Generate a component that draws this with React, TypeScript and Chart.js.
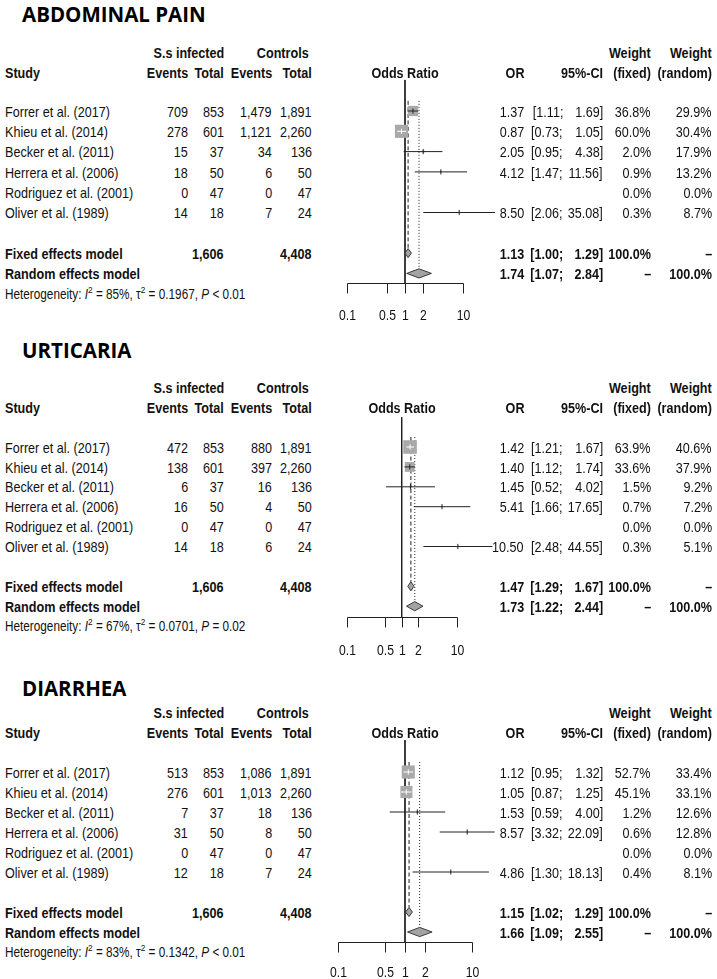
import React, { useEffect, useRef } from "react";
import { Chart, registerables } from "chart.js";

Chart.register(...registerables);

// ---------------- DATA ----------------
const studies = [
  "Forrer et al. (2017)",
  "Khieu et al. (2014)",
  "Becker et al. (2011)",
  "Herrera et al. (2006)",
  "Rodriguez et al. (2001)",
  "Oliver et al. (1989)",
];
const totalInfected = [853, 601, 37, 50, 47, 18];
const totalControls = [1891, 2260, 136, 50, 47, 24];

// Abdominal pain
const abdEventsInfected = [709, 278, 15, 18, 0, 14];
const abdEventsControls = [1479, 1121, 34, 6, 0, 7];
const abdOR = [1.37, 0.87, 2.05, 4.12, null, 8.5];
const abdLower = [1.11, 0.73, 0.95, 1.47, null, 2.06];
const abdUpper = [1.69, 1.05, 4.38, 11.56, null, 35.08];
const abdWeightFixed = [36.8, 60.0, 2.0, 0.9, 0.0, 0.3];
const abdWeightRandom = [29.9, 30.4, 17.9, 13.2, 0.0, 8.7];
const abdFixed = [1.13, 1.0, 1.29];
const abdRandom = [1.74, 1.07, 2.84];
const abdHeterogeneity = ["85%", "0.1967", "<", "0.01"];

// Urticaria
const urtEventsInfected = [472, 138, 6, 16, 0, 14];
const urtEventsControls = [880, 397, 16, 4, 0, 6];
const urtOR = [1.42, 1.4, 1.45, 5.41, null, 10.5];
const urtLower = [1.21, 1.12, 0.52, 1.66, null, 2.48];
const urtUpper = [1.67, 1.74, 4.02, 17.65, null, 44.55];
const urtWeightFixed = [63.9, 33.6, 1.5, 0.7, 0.0, 0.3];
const urtWeightRandom = [40.6, 37.9, 9.2, 7.2, 0.0, 5.1];
const urtFixed = [1.47, 1.29, 1.67];
const urtRandom = [1.73, 1.22, 2.44];
const urtHeterogeneity = ["67%", "0.0701", "=", "0.02"];

// Diarrhea
const diaEventsInfected = [513, 276, 7, 31, 0, 12];
const diaEventsControls = [1086, 1013, 18, 8, 0, 7];
const diaOR = [1.12, 1.05, 1.53, 8.57, null, 4.86];
const diaLower = [0.95, 0.87, 0.59, 3.32, null, 1.3];
const diaUpper = [1.32, 1.25, 4.0, 22.09, null, 18.13];
const diaWeightFixed = [52.7, 45.1, 1.2, 0.6, 0.0, 0.4];
const diaWeightRandom = [33.4, 33.1, 12.6, 12.8, 0.0, 8.1];
const diaFixed = [1.15, 1.02, 1.29];
const diaRandom = [1.66, 1.09, 2.55];
const diaHeterogeneity = ["83%", "0.1342", "<", "0.01"];

const axisTicks = [0.1, 0.5, 1, 2, 10];
const axisTickLabels = ["0.1", "0.5", "1", "2", "10"];

const panels = [
  {
    title: "ABDOMINAL PAIN",
    eventsInfected: abdEventsInfected,
    eventsControls: abdEventsControls,
    or: abdOR,
    lower: abdLower,
    upper: abdUpper,
    wFixed: abdWeightFixed,
    wRandom: abdWeightRandom,
    fixed: abdFixed,
    random: abdRandom,
    het: abdHeterogeneity,
  },
  {
    title: "URTICARIA",
    eventsInfected: urtEventsInfected,
    eventsControls: urtEventsControls,
    or: urtOR,
    lower: urtLower,
    upper: urtUpper,
    wFixed: urtWeightFixed,
    wRandom: urtWeightRandom,
    fixed: urtFixed,
    random: urtRandom,
    het: urtHeterogeneity,
  },
  {
    title: "DIARRHEA",
    eventsInfected: diaEventsInfected,
    eventsControls: diaEventsControls,
    or: diaOR,
    lower: diaLower,
    upper: diaUpper,
    wFixed: diaWeightFixed,
    wRandom: diaWeightRandom,
    fixed: diaFixed,
    random: diaRandom,
    het: diaHeterogeneity,
  },
];

// ---------------- LAYOUT ----------------
const layouts = [
  { titleY: 10.5, h1: 52, h2: 72, r0: 111, rs: 20.3, p1: 405, dec: 58.3, oddsX: 405, axisY: 283, labelDy: 32, lineTop: -1.53, sq: 17 },
  { titleY: 351, h1: 387, h2: 407, r0: 447, rs: 19.9, p1: 401.7, dec: 55, oddsX: 402, axisY: 617, labelDy: 33, lineTop: -1.5, sq: 17 },
  { titleY: 688.5, h1: 712, h2: 732, r0: 772, rs: 20, p1: 405, dec: 66.7, oddsX: 405, axisY: 942, labelDy: 30, lineTop: -1.6, sq: 18 },
];

const FONT = '"Liberation Sans", Arial, Helvetica, sans-serif';
const TITLE_FONT = '"Open Sans", "Lato", sans-serif';
const NARROW = 0.84;
const TEXT_SIZE = 15;
const INK = "#111";
const LINE = "#222";
const SQUARE = "#a9a9a9";
const DIAMOND = "#a3a3a3";

const COL = {
  study: 5,
  evInf: 188,
  totInf: 224,
  evCon: 272,
  totCon: 312,
  or: 524,
  ciLo: 563,
  ciHi: 603,
  wFixed: 651,
  wRandom: 712,
};

const fmtInt = (v: number) => v.toLocaleString("en-US");
const fmt2 = (v: number) => v.toFixed(2);
const fmtPct = (v: number) => v.toFixed(1) + "%";
const sum = (a: number[]) => a.reduce((s, v) => s + v, 0);

// ---------------- TEXT ----------------
function T({
  x,
  y,
  align = "left",
  bold = false,
  size = TEXT_SIZE,
  children,
}: {
  x: number;
  y: number;
  align?: "left" | "right" | "center";
  bold?: boolean;
  size?: number;
  children: React.ReactNode;
}) {
  const style: React.CSSProperties = {
    position: "absolute",
    top: y - size * 0.49,
    fontSize: size,
    lineHeight: `${size}px`,
    fontWeight: bold ? 700 : 400,
    whiteSpace: "nowrap",
    color: INK,
    transform: `scaleX(${NARROW})`,
  };
  if (align === "left") {
    style.left = x;
    style.transformOrigin = "left center";
  } else if (align === "right") {
    style.right = 717 - x;
    style.transformOrigin = "right center";
  } else {
    style.left = x - 150;
    style.width = 300;
    style.textAlign = "center";
    style.transformOrigin = "center center";
  }
  return <div style={style}>{children}</div>;
}

// ---------------- CHART ----------------
const CANVAS_LEFT = 330;
const CANVAS_WIDTH = 185;

function ForestChart({ panel, layout }: { panel: any; layout: any }) {
  const ref = useRef<HTMLCanvasElement>(null);
  const top = Math.floor(layout.r0 + layout.lineTop * layout.rs - 6);
  const bottom = Math.ceil(layout.axisY + layout.labelDy + 14);
  const height = bottom - top;

  useEffect(() => {
    const canvas = ref.current;
    if (!canvas) return;
    const xmin = Math.pow(10, (CANVAS_LEFT - layout.p1) / layout.dec);
    const xmax = Math.pow(10, (CANVAS_LEFT + CANVAS_WIDTH - layout.p1) / layout.dec);
    const ymin = (top - layout.r0) / layout.rs;
    const ymax = (bottom - layout.r0) / layout.rs;
    const axisRow = (layout.axisY - layout.r0) / layout.rs;
    const fixedRow = 7;
    const randomRow = 8;
    const dh = 4.6 / layout.rs;

    const datasets: any[] = [];
    const lineDs = (pts: any[], color: string, dash: number[] = [], order = 10) => ({
      data: pts,
      showLine: true,
      borderColor: color,
      borderWidth: 1,
      borderDash: dash,
      pointRadius: 0,
      fill: false,
      order,
    });

    // reference lines
    datasets.push(lineDs([{ x: 1, y: layout.lineTop }, { x: 1, y: axisRow }], LINE, [], 20));
    datasets.push(
      lineDs([{ x: panel.fixed[0], y: -0.5 }, { x: panel.fixed[0], y: fixedRow - dh }], LINE, [4, 2.5], 20)
    );
    datasets.push(
      lineDs([{ x: panel.random[0], y: -0.5 }, { x: panel.random[0], y: randomRow - dh }], LINE, [1, 2], 20)
    );

    // squares, CI lines, estimate ticks
    const sqPts: any[] = [];
    const sqRad: number[] = [];
    const tickPts: any[] = [];
    const tickCol: string[] = [];
    panel.or.forEach((v: number | null, i: number) => {
      if (v == null) return;
      const side = layout.sq * Math.sqrt(panel.wFixed[i] / 100);
      sqPts.push({ x: v, y: i });
      sqRad.push(side * Math.SQRT1_2);
      const half = side / 2;
      const inside =
        layout.dec * Math.log10(v / panel.lower[i]) <= half &&
        layout.dec * Math.log10(panel.upper[i] / v) <= half;
      const col = inside ? "#ffffff" : LINE;
      tickPts.push({ x: v, y: i });
      tickCol.push(col);
      datasets.push(lineDs([{ x: panel.lower[i], y: i }, { x: panel.upper[i], y: i }], col, [], 5));
    });
    datasets.push({
      data: sqPts,
      pointStyle: "rect",
      pointRadius: sqRad,
      pointBackgroundColor: SQUARE,
      pointBorderWidth: 0,
      showLine: false,
      order: 8,
    });
    datasets.push({
      data: tickPts,
      pointStyle: "line",
      rotation: 90,
      pointRadius: 2.6,
      pointBorderColor: tickCol,
      pointBorderWidth: 1,
      showLine: false,
      order: 3,
    });

    // diamonds
    const diamond = (est: number[], row: number) => ({
      data: [
        { x: est[1], y: row },
        { x: est[0], y: row - dh },
        { x: est[2], y: row },
        { x: est[0], y: row + dh },
        { x: est[1], y: row },
      ],
      showLine: true,
      borderColor: "#3a3a3a",
      borderWidth: 1,
      backgroundColor: DIAMOND,
      fill: "shape",
      pointRadius: 0,
      tension: 0,
      order: 2,
    });
    datasets.push(diamond(panel.fixed, fixedRow));
    datasets.push(diamond(panel.random, randomRow));

    const axisPlugin = {
      id: "forestAxis",
      afterDatasetsDraw(chart: any) {
        const { ctx } = chart;
        const xs = chart.scales.x;
        const ys = chart.scales.y;
        const yPix = Math.round(ys.getPixelForValue(axisRow)) + 0.5;
        const px = axisTicks.map((t) => Math.round(xs.getPixelForValue(t)) + 0.5);
        ctx.save();
        ctx.strokeStyle = LINE;
        ctx.lineWidth = 1;
        ctx.beginPath();
        ctx.moveTo(px[0], yPix);
        ctx.lineTo(px[px.length - 1], yPix);
        px.forEach((p) => {
          ctx.moveTo(p, yPix);
          ctx.lineTo(p, yPix + 10);
        });
        ctx.stroke();
        ctx.fillStyle = INK;
        ctx.font = `14.5px ${FONT}`;
        ctx.textAlign = "center";
        ctx.textBaseline = "middle";
        axisTickLabels.forEach((lab, i) => {
          ctx.save();
          ctx.translate(px[i], yPix + layout.labelDy);
          ctx.scale(NARROW, 1);
          ctx.fillText(lab, 0, 0);
          ctx.restore();
        });
        ctx.restore();
      },
    };

    const chart = new Chart(canvas, {
      type: "scatter",
      data: { datasets },
      options: {
        animation: false,
        responsive: false,
        events: [],
        layout: { padding: 0, autoPadding: false },
        plugins: { legend: { display: false }, tooltip: { enabled: false } },
        scales: {
          x: { type: "logarithmic", min: xmin, max: xmax, bounds: "data", display: false, ticks: { display: false } },
          y: {
            type: "linear",
            min: ymin,
            max: ymax,
            bounds: "data",
            reverse: true,
            display: false,
            ticks: { display: false },
          },
        },
      } as any,
      plugins: [axisPlugin],
    });
    return () => chart.destroy();
  }, []);

  return (
    <canvas
      ref={ref}
      width={CANVAS_WIDTH}
      height={height}
      style={{ position: "absolute", left: CANVAS_LEFT, top, width: CANVAS_WIDTH, height }}
    />
  );
}

// ---------------- PANEL ----------------
function ForestPanel({ panel, layout }: { panel: any; layout: any }) {
  const rowY = (r: number) => layout.r0 + r * layout.rs;
  const items: React.ReactNode[] = [];
  let k = 0;
  const add = (n: React.ReactNode) => items.push(<React.Fragment key={k++}>{n}</React.Fragment>);

  // headers
  add(<T x={COL.totInf} y={layout.h1} align="right" bold>S.s infected</T>);
  add(<T x={COL.totCon - 3} y={layout.h1} align="right" bold>Controls</T>);
  add(<T x={COL.wFixed} y={layout.h1} align="right" bold>Weight</T>);
  add(<T x={COL.wRandom} y={layout.h1} align="right" bold>Weight</T>);
  add(<T x={COL.study} y={layout.h2} bold>Study</T>);
  add(<T x={COL.evInf} y={layout.h2} align="right" bold>Events</T>);
  add(<T x={COL.totInf} y={layout.h2} align="right" bold>Total</T>);
  add(<T x={COL.evCon} y={layout.h2} align="right" bold>Events</T>);
  add(<T x={COL.totCon} y={layout.h2} align="right" bold>Total</T>);
  add(<T x={layout.oddsX} y={layout.h2} align="center" bold>Odds Ratio</T>);
  add(<T x={COL.or} y={layout.h2} align="right" bold>OR</T>);
  add(<T x={COL.ciHi} y={layout.h2} align="right" bold>95%-CI</T>);
  add(<T x={COL.wFixed} y={layout.h2} align="right" bold>(fixed)</T>);
  add(<T x={COL.wRandom} y={layout.h2} align="right" bold>(random)</T>);

  studies.forEach((name, i) => {
    const y = rowY(i);
    add(<T x={COL.study} y={y}>{name}</T>);
    add(<T x={COL.evInf} y={y} align="right">{fmtInt(panel.eventsInfected[i])}</T>);
    add(<T x={COL.totInf} y={y} align="right">{fmtInt(totalInfected[i])}</T>);
    add(<T x={COL.evCon} y={y} align="right">{fmtInt(panel.eventsControls[i])}</T>);
    add(<T x={COL.totCon} y={y} align="right">{fmtInt(totalControls[i])}</T>);
    if (panel.or[i] != null) {
      add(<T x={COL.or} y={y} align="right">{fmt2(panel.or[i])}</T>);
      add(<T x={COL.ciLo} y={y} align="right">{"[" + fmt2(panel.lower[i]) + ";"}</T>);
      add(<T x={COL.ciHi} y={y} align="right">{fmt2(panel.upper[i]) + "]"}</T>);
    }
    add(<T x={COL.wFixed} y={y} align="right">{fmtPct(panel.wFixed[i])}</T>);
    add(<T x={COL.wRandom} y={y} align="right">{fmtPct(panel.wRandom[i])}</T>);
  });

  const yf = rowY(7);
  add(<T x={COL.study} y={yf} bold>Fixed effects model</T>);
  add(<T x={COL.totInf} y={yf} align="right" bold>{fmtInt(sum(totalInfected))}</T>);
  add(<T x={COL.totCon} y={yf} align="right" bold>{fmtInt(sum(totalControls))}</T>);
  add(<T x={COL.or} y={yf} align="right" bold>{fmt2(panel.fixed[0])}</T>);
  add(<T x={COL.ciLo} y={yf} align="right" bold>{"[" + fmt2(panel.fixed[1]) + ";"}</T>);
  add(<T x={COL.ciHi} y={yf} align="right" bold>{fmt2(panel.fixed[2]) + "]"}</T>);
  add(<T x={COL.wFixed} y={yf} align="right" bold>100.0%</T>);
  add(<T x={COL.wRandom} y={yf} align="right" bold>–</T>);

  const yr = rowY(8);
  add(<T x={COL.study} y={yr} bold>Random effects model</T>);
  add(<T x={COL.or} y={yr} align="right" bold>{fmt2(panel.random[0])}</T>);
  add(<T x={COL.ciLo} y={yr} align="right" bold>{"[" + fmt2(panel.random[1]) + ";"}</T>);
  add(<T x={COL.ciHi} y={yr} align="right" bold>{fmt2(panel.random[2]) + "]"}</T>);
  add(<T x={COL.wFixed} y={yr} align="right" bold>–</T>);
  add(<T x={COL.wRandom} y={yr} align="right" bold>100.0%</T>);

  const yh = rowY(9);
  const sup = { fontSize: "0.7em", verticalAlign: "super", lineHeight: 0 } as React.CSSProperties;
  add(
    <T x={COL.study} y={yh} size={14}>
      Heterogeneity: <i>I</i>
      <sup style={sup}>2</sup> = {panel.het[0]}, τ<sup style={sup}>2</sup> = {panel.het[1]}, <i>P</i>{" "}
      {panel.het[2]} {panel.het[3]}
    </T>
  );

  const titleSize = 20.5;
  // Open Sans, line-height normal: cap centre sits ~0.712em below the top of the box
  const titleTop = Math.max(0, layout.titleY - titleSize * 0.712);
  return (
    <>
      <div
        style={{
          position: "absolute",
          left: 22,
          top: titleTop,
          fontFamily: TITLE_FONT,
          fontWeight: 700,
          fontSize: titleSize,
          lineHeight: "normal",
          color: "#000",
          whiteSpace: "nowrap",
        }}
      >
        {panel.title}
      </div>
      <ForestChart panel={panel} layout={layout} />
      {items}
    </>
  );
}

export default function App() {
  return (
    <div
      style={{
        position: "absolute",
        left: 0,
        top: 0,
        width: 717,
        height: 979,
        overflow: "hidden",
        background: "#fff",
        fontFamily: FONT,
        color: INK,
      }}
    >
      {panels.map((p, i) => (
        <ForestPanel key={i} panel={p} layout={layouts[i]} />
      ))}
    </div>
  );
}
